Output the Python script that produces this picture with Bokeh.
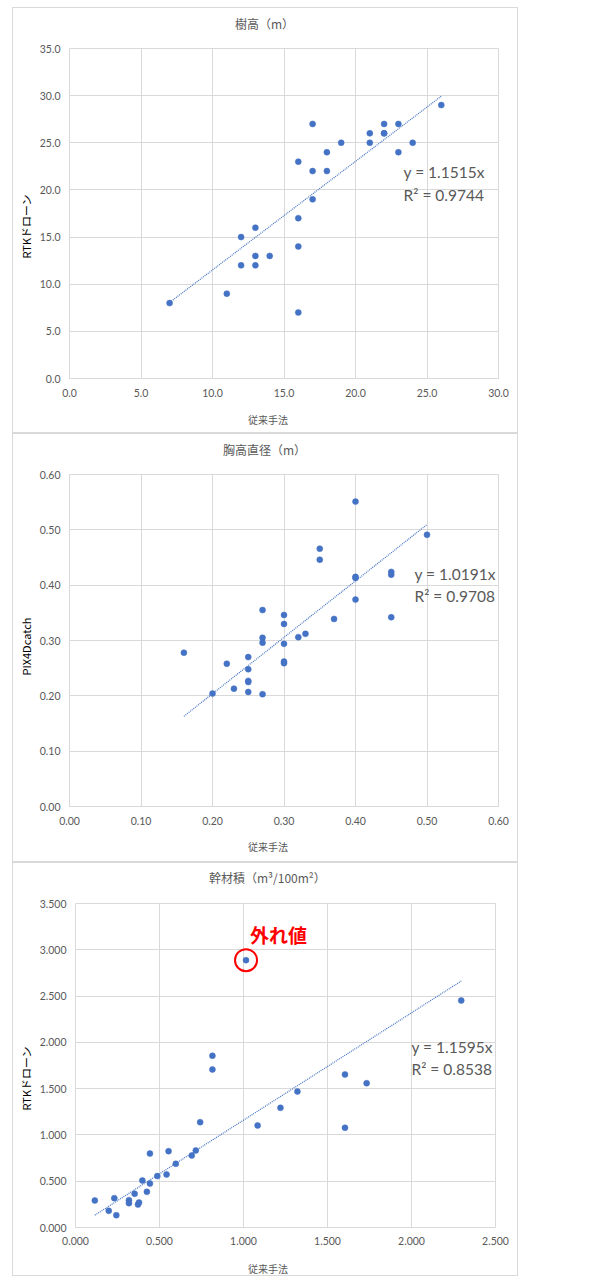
from bokeh.plotting import figure
from bokeh.layouts import column
from bokeh.models import (Label, Title, Div, NumeralTickFormatter, FixedTicker,
                          Range1d)
from bokeh.embed import file_html
from bokeh.resources import INLINE

# ---------------- data ----------------
# 樹高（m）
h_x = [7, 11, 12, 12, 13, 13, 13, 14, 16, 16, 16, 16, 17, 17, 17, 18, 18, 19,
       21, 21, 22, 22, 22, 23, 23, 24, 26]
h_y = [8, 9, 15, 12, 16, 13, 12, 13, 23, 17, 14, 7, 27, 22, 19, 24, 22, 25,
       26, 25, 27, 26, 26, 27, 24, 25, 29]
h_xticks = [0, 5, 10, 15, 20, 25, 30]
h_yticks = [0, 5, 10, 15, 20, 25, 30, 35]
h_slope = 1.1515
h_r2 = 0.9744

# 胸高直径（m）
d_x = [0.16, 0.20, 0.22, 0.23, 0.25, 0.25, 0.25, 0.25, 0.25, 0.27, 0.27, 0.27,
       0.27, 0.30, 0.30, 0.30, 0.30, 0.30, 0.32, 0.33, 0.35, 0.35, 0.37, 0.40,
       0.40, 0.40, 0.40, 0.45, 0.45, 0.45, 0.50]
d_y = [0.278, 0.204, 0.258, 0.213, 0.270, 0.248, 0.227, 0.225, 0.207, 0.355,
       0.305, 0.296, 0.203, 0.346, 0.330, 0.294, 0.262, 0.259, 0.306, 0.312,
       0.466, 0.446, 0.339, 0.551, 0.415, 0.413, 0.374, 0.424, 0.419, 0.342,
       0.491]
d_ticks = [0.0, 0.1, 0.2, 0.3, 0.4, 0.5, 0.6]
d_slope = 1.0191
d_r2 = 0.9708

# 幹材積（m³/100m²）
v_x = [0.115, 0.198, 0.231, 0.243, 0.318, 0.318, 0.352, 0.372, 0.378, 0.398,
       0.425, 0.443, 0.443, 0.487, 0.542, 0.554, 0.597, 0.692, 0.716, 0.742,
       0.815, 0.815, 1.015, 1.084, 1.220, 1.321, 1.604, 1.604, 1.733, 2.296]
v_y = [0.292, 0.180, 0.317, 0.133, 0.295, 0.263, 0.364, 0.248, 0.270, 0.508,
       0.385, 0.799, 0.475, 0.555, 0.573, 0.825, 0.688, 0.778, 0.832, 1.138,
       1.855, 1.707, 2.888, 1.102, 1.293, 1.469, 1.653, 1.077, 1.559, 2.452]
v_xticks = [0.0, 0.5, 1.0, 1.5, 2.0, 2.5]
v_yticks = [0.0, 0.5, 1.0, 1.5, 2.0, 2.5, 3.0, 3.5]
v_slope = 1.1595
v_r2 = 0.8538

x_title = "従来手法"

DOT = "#4472C4"
GRID = "#D9D9D9"
TXT = "#595959"
JP = "Noto Sans CJK JP"
NUM = "Lato"
W = 504


def text_div(text, height, indent, line_height, size):
    return Div(text=text, width=W, height=height, margin=(0, 0, 0, 0),
               styles={"font-family": JP, "font-size": size, "color": TXT,
                       "text-indent": f"{indent}px",
                       "line-height": f"{line_height}px",
                       "white-space": "nowrap"})


def make_fig(ylabel, xticks, yticks, fmt, xs, ys, slope, r2,
             height, bl, br, bt, bb, xstand, eq_x, eq_y1, eq_y2, ylab_off):
    p = figure(width=W, height=height, output_backend="svg",
               toolbar_location=None,
               x_range=Range1d(xticks[0], xticks[-1]),
               y_range=Range1d(yticks[0], yticks[-1]),
               min_border_left=bl, min_border_right=br, min_border_top=bt,
               min_border_bottom=bb, border_fill_color="white")

    p.outline_line_color = GRID
    p.grid.grid_line_color = GRID
    p.grid.grid_line_width = 1
    p.xaxis.ticker = FixedTicker(ticks=xticks)
    p.yaxis.ticker = FixedTicker(ticks=yticks)
    p.xaxis.formatter = NumeralTickFormatter(format=fmt)
    p.yaxis.formatter = NumeralTickFormatter(format=fmt)
    for ax in (p.xaxis, p.yaxis):
        ax.axis_line_color = None
        ax.major_tick_line_color = None
        ax.minor_tick_line_color = None
        ax.major_tick_out = 0
        ax.major_tick_in = 0
        ax.major_label_text_font = NUM
        ax.major_label_text_font_size = "10.5px"
        ax.major_label_text_color = TXT
    p.xaxis.major_label_standoff = xstand
    p.yaxis.major_label_standoff = 9

    p.add_layout(Title(text=ylabel, align="left", offset=ylab_off,
                       text_font=JP, text_font_size="11px",
                       text_font_style="normal", text_color="#000000",
                       standoff=5),
                 "left")

    # trendline (through origin) over data x range
    x0, x1 = min(xs), max(xs)
    p.line([x0, x1], [slope * x0, slope * x1], line_color=DOT, line_width=1.2,
           line_dash="1 1")
    p.scatter(xs, ys, size=6, fill_color=DOT, line_color=DOT, line_width=0.5)

    p.add_layout(Label(x=eq_x, y=eq_y1, text=f"y = {slope:.4f}x",
                       text_font=NUM, text_font_size="15.5px",
                       text_color=TXT, text_baseline="middle"))
    p.add_layout(Label(x=eq_x, y=eq_y2, text=f"R² = {r2:.4f}",
                       text_font=NUM, text_font_size="15.5px",
                       text_color=TXT, text_baseline="middle"))
    return p


p1 = make_fig("RTKドローン", h_xticks, h_yticks, "0.0",
              h_x, h_y, h_slope, h_r2, 365, 56, 19, 8, 27, 10,
              23.36, 21.95, 19.5, 120)
p2 = make_fig("PIX4Dcatch", d_ticks, d_ticks, "0.00",
              d_x, d_y, d_slope, d_r2, 368, 51, 19, 8, 28, 10,
              0.4825, 0.421, 0.381, 131)
p3 = make_fig("RTKドローン", v_xticks, v_yticks, "0.000",
              v_x, v_y, v_slope, v_r2, 357, 61, 22, 10, 23, 9,
              2.0, 1.955, 1.707, 117)

# outlier annotation
oi = v_y.index(max(v_y))
p3.scatter([v_x[oi]], [v_y[oi]], size=22, fill_color=None, line_color="#FF0000",
           line_width=2)
p3.add_layout(Label(x=v_x[oi] + 0.024, y=v_y[oi] + 0.28, text="外れ値",
                    text_font=JP, text_font_size="19px",
                    text_font_style="bold", text_color="#FF0000",
                    text_baseline="middle"))

box1 = column(text_div("樹高（m）", 32, 222, 32, "12px"), p1,
              text_div(x_title, 27, 235, 30, "10px"),
              spacing=0, styles={"border": "1px solid #D9D9D9"})
box2 = column(text_div("胸高直径（m）", 32, 210, 32, "12px"), p2,
              text_div(x_title, 27, 235, 25, "10px"),
              spacing=0, styles={"border": "1px solid #D9D9D9"})
box3 = column(text_div("幹材積（m³/100m²）", 30, 196, 30, "12px"), p3,
              text_div(x_title, 25, 235, 38, "10px"),
              spacing=0, styles={"border": "1px solid #D9D9D9"})

layout = column(box1, box2, box3, spacing=0,
                styles={"margin-left": "12px", "margin-top": "7px"})
open("out.html", "w").write(file_html(layout, INLINE))
